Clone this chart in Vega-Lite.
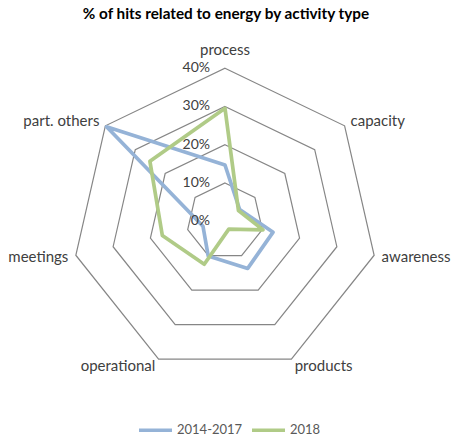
{
  "$schema": "https://vega.github.io/schema/vega-lite/v6.json",
  "width": 452,
  "height": 439,
  "autosize": {"type": "none"},
  "padding": 0,
  "background": "white",
  "title": {
    "text": "% of hits related to energy by activity type",
    "font": "Lato",
    "fontSize": 15.3,
    "fontWeight": "bold",
    "color": "#000000",
    "anchor": "middle",
    "frame": "group",
    "offset": 0,
    "baseline": "middle",
    "dy": 29
  },
  "config": {
    "view": {"stroke": null},
    "legend": {
      "orient": "none",
      "legendX": 137,
      "legendY": 411.5,
      "direction": "horizontal",
      "padding": 0,
      "symbolType": "stroke",
      "symbolSize": 1089,
      "symbolStrokeWidth": 3.5,
      "labelFont": "Lato",
      "labelFontSize": 13,
      "labelColor": "#595959",
      "labelOffset": 3,
      "columnPadding": 2,
      "title": null
    }
  },
  "datasets": {
    "series": [
      {"category": "process", "i": 0, "series": "2014-2017", "value": 14.7},
      {"category": "capacity", "i": 1, "series": "2014-2017", "value": 4.9},
      {"category": "awareness", "i": 2, "series": "2014-2017", "value": 12.9},
      {"category": "products", "i": 3, "series": "2014-2017", "value": 13.7},
      {"category": "operational", "i": 4, "series": "2014-2017", "value": 10.1},
      {"category": "meetings", "i": 5, "series": "2014-2017", "value": 5.9},
      {"category": "part. others", "i": 6, "series": "2014-2017", "value": 39.6},
      {"category": "process", "i": 0, "series": "2018", "value": 29.5},
      {"category": "capacity", "i": 1, "series": "2018", "value": 4.5},
      {"category": "awareness", "i": 2, "series": "2018", "value": 10.2},
      {"category": "products", "i": 3, "series": "2018", "value": 2.3},
      {"category": "operational", "i": 4, "series": "2018", "value": 12.5},
      {"category": "meetings", "i": 5, "series": "2018", "value": 16.8},
      {"category": "part. others", "i": 6, "series": "2018", "value": 25.1}
    ],
    "categories": [
      {"category": "process", "i": 0},
      {"category": "capacity", "i": 1},
      {"category": "awareness", "i": 2},
      {"category": "products", "i": 3},
      {"category": "operational", "i": 4},
      {"category": "meetings", "i": 5},
      {"category": "part. others", "i": 6}
    ],
    "rings": [
      {"i": 0, "level": [10, 20, 30, 40]},
      {"i": 1, "level": [10, 20, 30, 40]},
      {"i": 2, "level": [10, 20, 30, 40]},
      {"i": 3, "level": [10, 20, 30, 40]},
      {"i": 4, "level": [10, 20, 30, 40]},
      {"i": 5, "level": [10, 20, 30, 40]},
      {"i": 6, "level": [10, 20, 30, 40]}
    ],
    "ticks": [
      {"level": 0}, {"level": 10}, {"level": 20}, {"level": 30}, {"level": 40}
    ]
  },
  "layer": [
    {
      "data": {"name": "rings"},
      "transform": [
        {"flatten": ["level"]},
        {"calculate": "datum.i * 2 * PI / 7", "as": "theta"},
        {"calculate": "datum.level * sin(datum.theta)", "as": "px"},
        {"calculate": "datum.level * cos(datum.theta)", "as": "py"}
      ],
      "mark": {"type": "line", "interpolate": "linear-closed", "stroke": "#868686", "strokeWidth": 1.2},
      "encoding": {
        "x": {"field": "px", "type": "quantitative", "scale": {"domain": [-58.82, 59.35], "nice": false, "zero": false}, "axis": null},
        "y": {"field": "py", "type": "quantitative", "scale": {"domain": [-56.94, 57.83], "nice": false, "zero": false}, "axis": null},
        "detail": {"field": "level", "type": "nominal"},
        "order": {"field": "i", "type": "quantitative"}
      }
    },
    {
      "data": {"name": "series"},
      "transform": [
        {"calculate": "datum.i * 2 * PI / 7", "as": "theta"},
        {"calculate": "datum.value * sin(datum.theta)", "as": "px"},
        {"calculate": "datum.value * cos(datum.theta)", "as": "py"}
      ],
      "mark": {"type": "line", "interpolate": "linear-closed", "strokeWidth": 3.7, "strokeJoin": "round"},
      "encoding": {
        "x": {"field": "px", "type": "quantitative"},
        "y": {"field": "py", "type": "quantitative"},
        "color": {
          "field": "series",
          "type": "nominal",
          "scale": {"domain": ["2014-2017", "2018"], "range": ["#95B3D7", "#B0CB87"]}
        },
        "order": {"field": "i", "type": "quantitative"}
      }
    },
    {
      "data": {"name": "ticks"},
      "transform": [
        {"calculate": "datum.level + '%'", "as": "label"},
        {"calculate": "0", "as": "px"}
      ],
      "mark": {"type": "text", "align": "right", "baseline": "middle", "dx": -15, "font": "Lato", "fontSize": 14, "color": "#404040"},
      "encoding": {
        "x": {"field": "px", "type": "quantitative"},
        "y": {"field": "level", "type": "quantitative"},
        "text": {"field": "label"}
      }
    },
    {
      "data": {"name": "categories"},
      "transform": [
        {"filter": "datum.i == 0"},
        {"calculate": "0", "as": "px"},
        {"calculate": "44.7", "as": "py"}
      ],
      "mark": {"type": "text", "align": "center", "baseline": "middle", "font": "Lato", "fontSize": 15, "color": "#404040"},
      "encoding": {
        "x": {"field": "px", "type": "quantitative"},
        "y": {"field": "py", "type": "quantitative"},
        "text": {"field": "category"}
      }
    },
    {
      "data": {"name": "categories"},
      "transform": [
        {"filter": "datum.i >= 1 && datum.i <= 3"},
        {"calculate": "datum.i * 2 * PI / 7", "as": "theta"},
        {"calculate": "42 * sin(datum.theta)", "as": "px"},
        {"calculate": "42 * cos(datum.theta)", "as": "py"}
      ],
      "mark": {"type": "text", "align": "left", "baseline": "middle", "font": "Lato", "fontSize": 15, "color": "#404040"},
      "encoding": {
        "x": {"field": "px", "type": "quantitative"},
        "y": {"field": "py", "type": "quantitative"},
        "text": {"field": "category"}
      }
    },
    {
      "data": {"name": "categories"},
      "transform": [
        {"filter": "datum.i >= 4"},
        {"calculate": "datum.i * 2 * PI / 7", "as": "theta"},
        {"calculate": "42 * sin(datum.theta)", "as": "px"},
        {"calculate": "42 * cos(datum.theta)", "as": "py"}
      ],
      "mark": {"type": "text", "align": "right", "baseline": "middle", "font": "Lato", "fontSize": 15, "color": "#404040"},
      "encoding": {
        "x": {"field": "px", "type": "quantitative"},
        "y": {"field": "py", "type": "quantitative"},
        "text": {"field": "category"}
      }
    }
  ]
}
